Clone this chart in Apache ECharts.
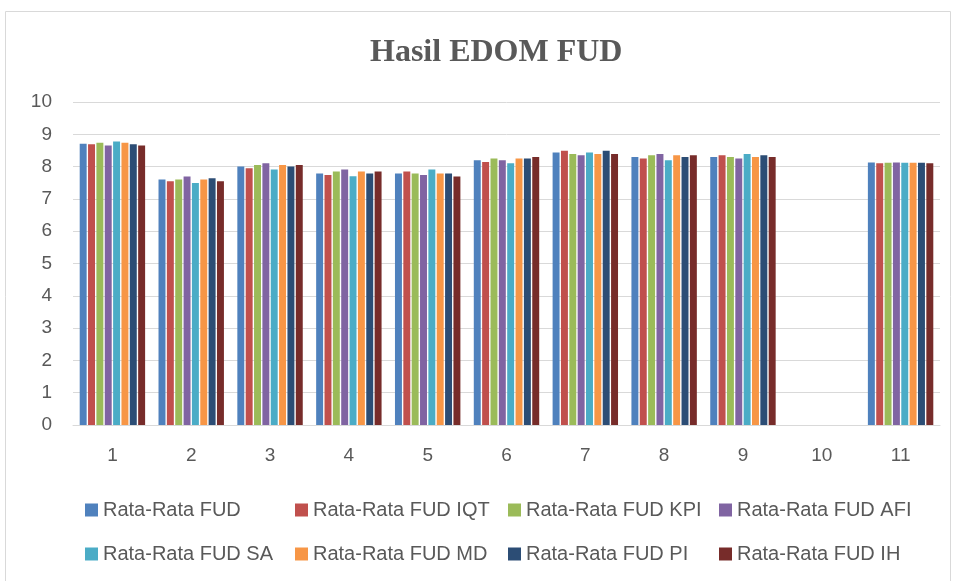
<!DOCTYPE html>
<html>
<head>
<meta charset="utf-8">
<script src="https://cdn.jsdelivr.net/npm/echarts@6/dist/echarts.min.js"></script>
<style>
  html, body { margin: 0; padding: 0; background: #fff; }
  #main { width: 958px; height: 581px; }
</style>
</head>
<body>
<div id="main"></div>
<script>
// data
var categories = ['1', '2', '3', '4', '5', '6', '7', '8', '9', '10', '11'];
var seriesNames = ['Rata-Rata FUD', 'Rata-Rata FUD IQT', 'Rata-Rata FUD KPI', 'Rata-Rata FUD AFI',
  'Rata-Rata FUD SA', 'Rata-Rata FUD MD', 'Rata-Rata FUD PI', 'Rata-Rata FUD IH'];
var fud    = [8.71, 7.60, 8.00, 7.79, 7.79, 8.20, 8.44, 8.30, 8.30, null, 8.13];
var fudIqt = [8.69, 7.55, 7.95, 7.74, 7.85, 8.14, 8.49, 8.25, 8.35, null, 8.10];
var fudKpi = [8.74, 7.60, 8.05, 7.85, 7.79, 8.25, 8.39, 8.35, 8.30, null, 8.12];
var fudAfi = [8.65, 7.69, 8.10, 7.91, 7.74, 8.20, 8.35, 8.39, 8.25, null, 8.13];
var fudSa  = [8.78, 7.49, 7.91, 7.70, 7.91, 8.10, 8.44, 8.20, 8.39, null, 8.12];
var fudMd  = [8.74, 7.60, 8.05, 7.85, 7.79, 8.25, 8.39, 8.35, 8.30, null, 8.12];
var fudPi  = [8.69, 7.64, 8.00, 7.79, 7.79, 8.25, 8.49, 8.30, 8.35, null, 8.12];
var fudIh  = [8.65, 7.55, 8.05, 7.85, 7.69, 8.30, 8.39, 8.35, 8.30, null, 8.10];
var allValues = [fud, fudIqt, fudKpi, fudAfi, fudSa, fudMd, fudPi, fudIh];

var colors = ['#4F81BD', '#C0504D', '#9BBB59', '#8064A2', '#4BACC6', '#F79646', '#2C4D75', '#772C2A'];

var myChart = echarts.init(document.getElementById('main'));

var textColor = '#595959';
var legendFont = { fontFamily: 'Liberation Sans', fontSize: 20, color: textColor };

// one legend per item so the columns sit where Excel put them
var legendLeft = [80, 290, 503, 714];
var legendTop = [495, 539];
var legends = seriesNames.map(function(name, i) {
  return {
    data: [name],
    left: legendLeft[i % 4],
    top: legendTop[Math.floor(i / 4)],
    itemWidth: 13,
    itemHeight: 13,
    itemGap: 0,
    icon: 'rect',
    textStyle: legendFont,
    selectedMode: false
  };
});

var series = seriesNames.map(function(name, i) {
  return {
    name: name,
    type: 'bar',
    data: allValues[i],
    barGap: '20%',
    barCategoryGap: '17%',
    itemStyle: { color: colors[i] },
    animation: false
  };
});

var option = {
  color: colors,
  animation: false,
  title: {
    text: 'Hasil EDOM FUD',
    left: 365,
    top: 32,
    textStyle: {
      fontFamily: 'Liberation Serif',
      fontWeight: 'bold',
      fontSize: 32,
      color: textColor
    }
  },
  graphic: [{
    type: 'rect',
    shape: { x: 5.5, y: 11.5, width: 945, height: 600 },
    style: { fill: 'none', stroke: '#d9d9d9', lineWidth: 1 },
    silent: true
  }],
  legend: legends,
  grid: { left: 73, right: 18, top: 102, bottom: 156 },
  xAxis: {
    type: 'category',
    data: categories,
    axisTick: { show: false },
    axisLine: { lineStyle: { color: '#d9d9d9' } },
    axisLabel: { fontFamily: 'Liberation Sans', fontSize: 19, color: textColor, margin: 21 }
  },
  yAxis: {
    type: 'value',
    min: 0,
    max: 10,
    interval: 1,
    axisLine: { show: false },
    axisTick: { show: false },
    splitLine: { lineStyle: { color: '#d9d9d9' } },
    axisLabel: { fontFamily: 'Liberation Sans', fontSize: 19, color: textColor, margin: 21 }
  },
  series: series
};

myChart.setOption(option);
</script>
</body>
</html>
